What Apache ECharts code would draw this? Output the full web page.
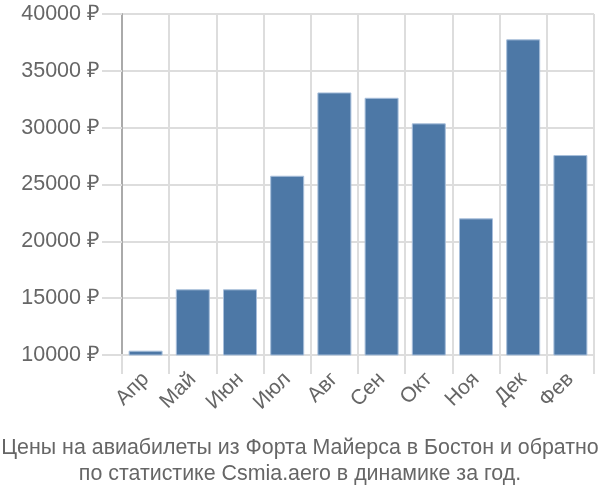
<!DOCTYPE html>
<html><head><meta charset="utf-8">
<script src="https://cdn.jsdelivr.net/npm/echarts@6/dist/echarts.min.js"></script>
<style>html,body{margin:0;padding:0;background:#fff}#c{width:600px;height:500px}</style>
</head><body><div id="c"></div>
<script>
const categories = ["Апр","Май","Июн","Июл","Авг","Сен","Окт","Ноя","Дек","Фев"];
const prices = [10380, 15780, 15780, 25770, 33100, 32630, 30380, 22020, 37770, 27590];
const yTicks = [10000, 15000, 20000, 25000, 30000, 35000, 40000];
const titleLines = ["Цены на авиабилеты из Форта Майерса в Бостон и обратно","по статистике Csmia.aero в динамике за год."];

const chart = echarts.init(document.getElementById('c'), null, {renderer:'canvas'});
chart.setOption({
  animation:false,
  title:{text:titleLines.join('\n'), left:'center', top:430,
    textStyle:{fontFamily:'Liberation Sans', fontSize:21.4, fontWeight:'normal', color:'#666', lineHeight:26}},
  grid:{left:122, right:6, top:14, bottom:145},
  xAxis:{type:'category', data:categories,
    axisLine:{show:true, lineStyle:{color:'#ddd', width:2}},
    axisTick:{show:true, length:19, lineStyle:{color:'#ddd', width:2}},
    splitLine:{show:true, lineStyle:{color:'#ddd', width:2}},
    axisLabel:{rotate:45, margin:21, fontFamily:'Liberation Sans', fontSize:21, color:'#666'}},
  yAxis:{type:'value', min:yTicks[0], max:yTicks[yTicks.length-1], interval:5000,
    axisLine:{show:true, lineStyle:{color:'#aaa', width:2}},
    axisTick:{show:true, length:20, lineStyle:{color:'#ddd', width:2}},
    splitLine:{show:true, lineStyle:{color:'#ddd', width:2}},
    axisLabel:{margin:22, fontFamily:'Liberation Sans', fontSize:21.5, color:'#666',
      formatter: v => v + ' ₽'}},
  series:[{type:'bar', data:prices, barCategoryGap:'28%',
    itemStyle:{color:'#4d78a6', borderColor:'#a8bfdb', borderWidth:1}}]
});
</script></body></html>
